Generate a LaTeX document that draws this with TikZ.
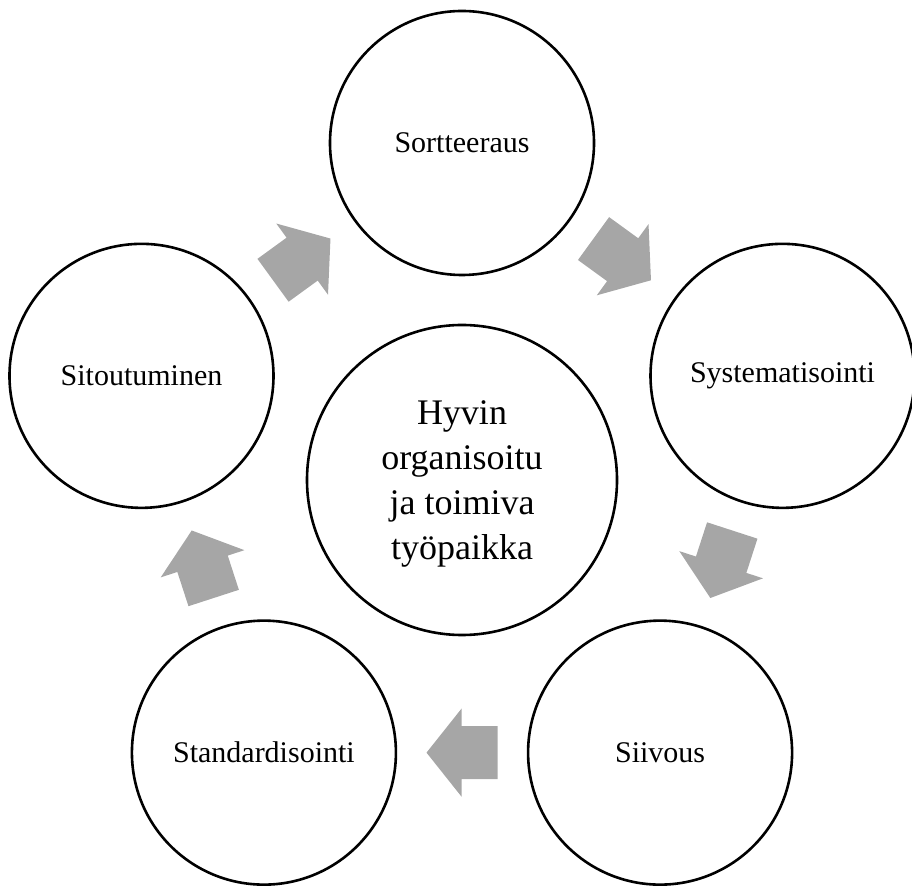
\documentclass[tikz,border=0pt]{standalone}
\usepackage{fontspec}
\setmainfont{Liberation Serif}
\usetikzlibrary{calc}
\definecolor{arrowgray}{RGB}{166,166,166}
\tikzset{
  stage/.style={circle, draw=black, line width=2.6pt, minimum size=264pt,
    inner sep=0pt, font=\fontsize{30}{36}\selectfont},
  hub/.style={circle, draw=black, line width=2.6pt, minimum size=310pt,
    inner sep=0pt},
  hubtext/.style={align=center, font=\fontsize{36}{45}\selectfont},
  cyclearrow/.pic={
    \fill[arrowgray] (-35.5,-26.5) -- (0.5,-26.5) -- (0.5,-44) -- (35.5,0)
      -- (0.5,44) -- (0.5,26.5) -- (-35.5,26.5) -- cycle;
  },
  onedge/.style={pos=0.5, sloped, allow upside down},
}
\begin{document}
\begin{tikzpicture}[x=1pt, y=1pt]
  \useasboundingbox (0,0) rectangle (912,888);
  % centre of the cycle and distance to the outer stages
  \coordinate (c) at (462,408);
  \node[hub] (h) at (c) {};
  \node[hubtext] (ht) at ($(c)+(0,-4)$) {Hyvin\\organisoitu\\ja toimiva\\työpaikka};
  % the five stages, clockwise from the top
  \node[stage] (s1) at ($(c)+(90:337)$)   {Sortteeraus};
  \node[stage] (s2) at ($(c)+(18:337)$)   {Systematisointi};
  \node[stage] (s3) at ($(c)+(-54:337)$)  {Siivous};
  \node[stage] (s4) at ($(c)+(-126:337)$) {Standardisointi};
  \node[stage] (s5) at ($(c)+(162:337)$)  {Sitoutuminen};
  % block arrows between neighbouring stages
  \path (s1) -- pic[onedge]{cyclearrow} (s2);
  \path (s2) -- pic[onedge]{cyclearrow} (s3);
  \path (s3) -- pic[onedge]{cyclearrow} (s4);
  \path (s4) -- pic[onedge]{cyclearrow} (s5);
  \path (s5) -- pic[onedge]{cyclearrow} (s1);
\end{tikzpicture}
\end{document}
